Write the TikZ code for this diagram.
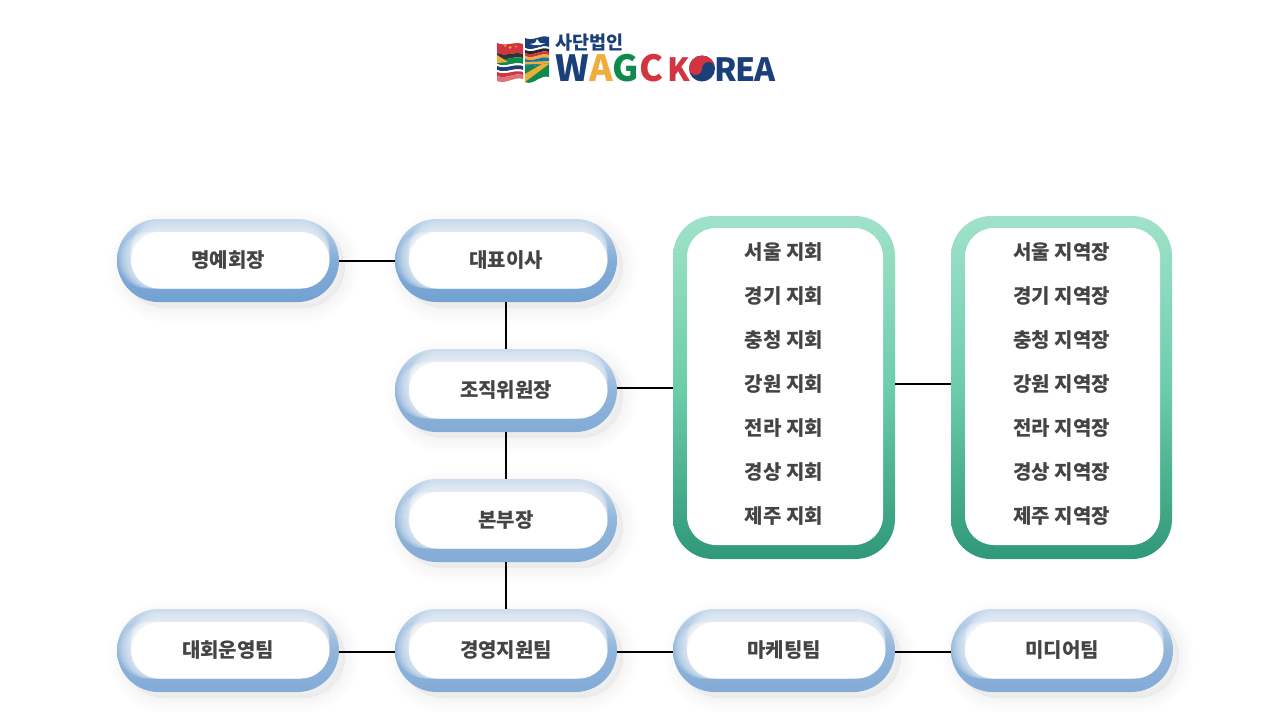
\documentclass[tikz,border=0pt]{standalone}
\usepackage{fontspec}
\newfontfamily\krfont{Noto Sans CJK KR}
\newfontfamily\logofont{Noto Sans CJK KR Black}
\usetikzlibrary{shadows}
\definecolor{labeltext}{HTML}{444444}
\definecolor{logoblue}{HTML}{1B3F78}
\definecolor{logored}{HTML}{D2353F}
\definecolor{logoyellow}{HTML}{F0AD3C}
\definecolor{logogreen}{HTML}{0F8A4B}
\definecolor{listtop}{HTML}{A0E2C9}
\definecolor{listmid}{HTML}{6CCDAA}
\definecolor{listbottom}{HTML}{2F9878}
\definecolor{pilldark}{HTML}{72A1D2}
\definecolor{pilllight}{HTML}{82ABD6}

\tikzset{shadowstep/.style={general shadow={draw=black, fill=black, line width=#1, opacity=.004, shadow xshift=6pt, shadow yshift=-6pt}}}
\tikzset{softshadow/.style={shadowstep=3pt, shadowstep=6pt, shadowstep=9pt, shadowstep=12pt, shadowstep=15pt, shadowstep=18pt, shadowstep=21pt, shadowstep=24pt, shadowstep=27pt, shadowstep=30pt}}
\tikzset{pillbox/.style={rectangle, minimum width=222pt, minimum height=83pt, rounded corners=41.5pt, inner sep=0pt, outer sep=0pt,
	text=labeltext, font=\krfont\bfseries\fontsize{20}{24}\selectfont, softshadow,
	top color=#1!45!white, bottom color=#1, middle color=#1!88!white,
	path picture={
		% light creeping out from under the white part, upwards and to the left
		\foreach \ring in {13,11.5,...,1}{
			\fill [white, opacity=.11, rounded corners=28.5pt]
				([xshift=14pt, yshift=-13pt+\ring pt]path picture bounding box.north west)
				rectangle ([xshift=-9.5pt, yshift=13.5pt+\ring pt]path picture bounding box.south east);
			\fill [white, opacity=.11, rounded corners=28.5pt]
				([xshift=14pt-\ring pt, yshift=-13pt]path picture bounding box.north west)
				rectangle ([xshift=-9.5pt-\ring pt, yshift=13.5pt]path picture bounding box.south east);
		}
		\fill [white, rounded corners=28.5pt]
			([xshift=14pt, yshift=-13pt]path picture bounding box.north west)
			rectangle ([xshift=-9.5pt, yshift=13.5pt]path picture bounding box.south east);
	}}}
\tikzstyle{listbox} = [rectangle, minimum width=222pt, minimum height=343pt, rounded corners=40pt, inner sep=0pt, outer sep=0pt,
	top color=listtop, bottom color=listbottom, middle color=listmid,
	path picture={
		\fill [white, rounded corners=29pt]
			([xshift=14pt, yshift=-12pt]path picture bounding box.north west)
			rectangle ([xshift=-12pt, yshift=14pt]path picture bounding box.south east);
	}]
\tikzstyle{listtext} = [inner sep=0pt, text=labeltext, font=\krfont\bfseries\fontsize{20}{44}\selectfont, align=center]
\tikzstyle{arrow} = [line width=2pt, black]
\tikzstyle{logotext} = [inner sep=0pt, outer sep=0pt, anchor=base west, font=\logofont\addfontfeature{LetterSpace=-5}\fontsize{32}{32}\selectfont]
% one stripe of the waving flag: x left, x right, top, bottom (left end), top, bottom (right end), colour
\newcommand{\flagband}[7]{\fill [#7] (#1,#3) .. controls (#1+9,#3+4) and (#2-9,#5-3) .. (#2,#5) -- (#2,#6) .. controls (#2-9,#6-3) and (#1+9,#4+4) .. (#1,#4) -- cycle;}

\begin{document}
\begin{tikzpicture}[x=1pt, y=-1pt, node distance = 130pt, auto]
	\useasboundingbox (0,0) rectangle (1274,716);
	% Place nodes
	\node [pillbox=pilldark] (Chairman) at (228,260.5) {명예회장};
	\node [pillbox=pilldark, right of=Chairman, xshift = 148pt] (President) {대표이사};
	\node [pillbox=pilllight, below of=President] (Organizing) {조직위원장};
	\node [pillbox=pilllight, below of=Organizing] (Headquarters) {본부장};
	\node [pillbox=pilllight, below of=Headquarters] (Support) {경영지원팀};
	\node [pillbox=pilllight, left of=Support, xshift = -148pt] (Operations) {대회운영팀};
	\node [pillbox=pilllight, right of=Support, xshift = 148pt] (Marketing) {마케팅팀};
	\node [pillbox=pilllight, right of=Marketing, xshift = 148pt] (Media) {미디어팀};
	\node [listbox, right of=Organizing, xshift = 148pt, yshift = 3pt] (Branches) {};
	\node [listbox, minimum width=221pt, right of=Branches, xshift = 147.5pt] (Regions) {};
	\node [listtext, yshift = 4pt] (BranchList) at (Branches) {서울 지회\\경기 지회\\충청 지회\\강원 지회\\전라 지회\\경상 지회\\제주 지회};
	\node [listtext, yshift = 4pt] (RegionList) at (Regions) {서울 지역장\\경기 지역장\\충청 지역장\\강원 지역장\\전라 지역장\\경상 지역장\\제주 지역장};
	% Draw edges
	\draw [arrow] ([yshift=-.5pt]Chairman.east) -- ([yshift=-.5pt]President.west);
	\draw [arrow] (President) -- (Organizing);
	\draw [arrow] (Organizing) -- (Headquarters);
	\draw [arrow] (Headquarters) -- (Support);
	\draw [arrow] ([yshift=-1.5pt]Operations.east) -- ([yshift=-1.5pt]Support.west);
	\draw [arrow] ([yshift=-1.5pt]Support.east) -- ([yshift=-1.5pt]Marketing.west);
	\draw [arrow] ([yshift=-1.5pt]Marketing.east) -- ([yshift=-1.5pt]Media.west);
	\draw [arrow] (Branches.west -| Organizing.east) -- (Branches.west);
	\draw [arrow] ([yshift=3.5pt]Branches.east) -- ([yshift=3.5pt]Regions.west);
	% Logo flag, left half
	\flagband{497}{523}{43}{53}{44}{54}{logored}
	\flagband{497}{523}{53}{58}{54}{58}{black!80}
	\flagband{497}{523}{58}{64}{58}{64}{logogreen}
	\flagband{497}{523}{64}{66}{64}{66}{white}
	\flagband{497}{523}{66}{70}{66}{70}{logoblue}
	\flagband{497}{523}{70}{72}{70}{72}{white}
	\flagband{497}{523}{72}{76}{72}{75}{logored}
	\flagband{497}{523}{76}{81}{75}{79}{logored!70!white}
	\fill [logoyellow] (510,47.5) circle (1.5) (516,46.5) circle (1) (505,46) circle (1);
	\fill [logoyellow] (497,55) -- (508,62) -- (497,63) -- cycle;
	% Logo flag, right half
	\flagband{525}{549}{38}{48}{37}{47}{logoblue}
	\flagband{525}{549}{48}{50}{47}{49}{white}
	\flagband{525}{549}{50}{53}{49}{52}{black!85}
	\flagband{525}{549}{53}{56}{52}{55}{logored}
	\flagband{525}{549}{56}{59}{55}{58}{logoyellow}
	\flagband{525}{549}{59}{65}{58}{64}{logoblue!70!cyan}
	\flagband{525}{549}{65}{82}{64}{77}{logogreen}
	\fill [white] (537,39) -- (540,43) -- (545,43.5) -- (540,45) -- (534,45) -- (530,44) -- (535,43) -- cycle;
	\fill [logoyellow] (525,62) -- (549,61) -- (549,63.5) -- (525,64.5) -- cycle;
	\fill [logoyellow] (525,82) -- (549,64) -- (542,64) -- (525,74) -- cycle;
	% Logo text
	\node [logotext, text=logoblue, font=\krfont\bfseries\fontsize{18.5}{18.5}\selectfont] (LogoTitle) at (555,49.5) {사단법인};
	\node [logotext, font=\logofont\fontsize{36}{36}\selectfont] (LogoWagc) at (555.5,81) {\textcolor{logoblue}{W}\textcolor{logoyellow}{A}\textcolor{logogreen}{G}\textcolor{logored}{C}};
	\node [logotext, text=logored] (LogoK) at (667.5,81) {K};
	\fill [logoblue] (702,68.5) circle (13);
	\fill [logored] (689,68.5) arc (180:360:13) arc (0:-180:6.5) arc (0:180:6.5);
	\node [logotext, text=logoblue] (LogoRea) at (714.5,81) {REA};
\end{tikzpicture}
\end{document}
